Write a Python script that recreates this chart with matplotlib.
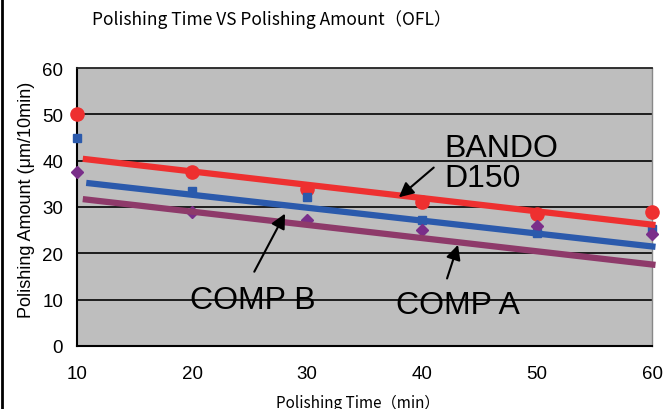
import matplotlib
matplotlib.use("Agg")
import matplotlib.pyplot as plt
from matplotlib.lines import Line2D

# Data
times = [10, 20, 30, 40, 50, 60]
bando = [50.0, 37.6, 33.9, 31.1, 28.5, 28.9]
comp_b = [44.9, 33.5, 32.2, 27.1, 24.3, 25.3]
comp_a = [37.6, 29.0, 27.2, 25.1, 26.0, 24.2]

# Trend lines (start/end)
trend_x_bando = [10.5, 60.3]
trend_y_bando = [40.4, 26.1]
trend_x_b = [10.8, 60.3]
trend_y_b = [35.2, 21.4]
trend_x_a = [10.5, 60.3]
trend_y_a = [31.7, 17.5]

xticks = [10, 20, 30, 40, 50, 60]
yticks = [0, 10, 20, 30, 40, 50, 60]

RED = "#EE3030"
BLUE = "#2B5AAC"
PURPLE_LINE = "#8E3A6A"
PURPLE_MK = "#7A2E8A"

fig = plt.figure(figsize=(6.64, 4.10), dpi=100)
ax = fig.add_axes([0.116, 0.1537, 0.866, 0.678])
ax.set_facecolor("#BEBEBE")
ax.set_xlim(10, 60)
ax.set_ylim(0, 60)

for y in yticks[1:-1]:
    ax.axhline(y, color="#111111", lw=1.3, zorder=1)

ax.plot(times, bando, "o", color=RED, ms=9.5, zorder=3, clip_on=False)
ax.plot(times, comp_b, "s", color=BLUE, ms=6, zorder=3, clip_on=False)
ax.plot(times, comp_a, "D", color=PURPLE_MK, ms=6, zorder=3, clip_on=False)

ax.plot(trend_x_bando, trend_y_bando, color=RED, lw=4.5, zorder=4, solid_capstyle="butt", clip_on=False)
ax.plot(trend_x_b, trend_y_b, color=BLUE, lw=4.5, zorder=4, solid_capstyle="butt", clip_on=False)
ax.plot(trend_x_a, trend_y_a, color=PURPLE_LINE, lw=4.5, zorder=4, solid_capstyle="butt", clip_on=False)

for s in ["left", "bottom"]:
    ax.spines[s].set_color("black")
    ax.spines[s].set_linewidth(1.5)
ax.spines["top"].set_color("#222222")
ax.spines["top"].set_linewidth(1.3)
ax.spines["right"].set_color("#888888")
ax.spines["right"].set_linewidth(1.0)

ax.set_xticks(xticks)
ax.set_yticks(yticks)
ax.tick_params(length=0, labelsize=13.5, pad=10)
for lab in ax.get_xticklabels() + ax.get_yticklabels():
    lab.set_family("Liberation Sans")
ax.tick_params(axis="x", pad=14)

ann_font = dict(family="Liberation Sans", fontsize=23, color="black")
arrow = dict(arrowstyle="-|>", color="black", lw=1.5, mutation_scale=22)

ax.text(41.9, 46.0, "BANDO\nD150", ha="left", va="top", linespacing=1.0, zorder=6, **ann_font)
ax.annotate("", xy=(37.8, 31.7), xytext=(41.2, 38.9), arrowprops=arrow, zorder=6)

ax.text(25.3, 8.2, "COMP B", ha="center", va="baseline", zorder=6, **ann_font)
ax.annotate("", xy=(28.2, 29.1), xytext=(25.3, 15.5), arrowprops=arrow, zorder=6)

ax.text(43.1, 7.2, "COMP A", ha="center", va="baseline", zorder=6, **ann_font)
ax.annotate("", xy=(43.2, 22.4), xytext=(42.1, 14.0), arrowprops=arrow, zorder=6)

fig.text(272 / 664, 1 - 20 / 410, "Polishing Time VS Polishing Amount（OFL）",
         ha="center", va="center", fontsize=12.5,
         family=["Noto Sans CJK JP", "DejaVu Sans"])
fig.text(358 / 664, 1 - 403 / 410, "Polishing Time（min）",
         ha="center", va="center", fontsize=11,
         family=["Noto Sans CJK JP", "DejaVu Sans"])
fig.text(27 / 664, 1 - 200 / 410, "Polishing Amount (μm/10min)",
         ha="center", va="center", rotation=90, fontsize=13,
         family=["Liberation Sans", "DejaVu Sans"])

fig.add_artist(Line2D([0.003, 0.003], [0, 1], transform=fig.transFigure, color="black", lw=2))

fig.savefig("out.png", dpi=100)
